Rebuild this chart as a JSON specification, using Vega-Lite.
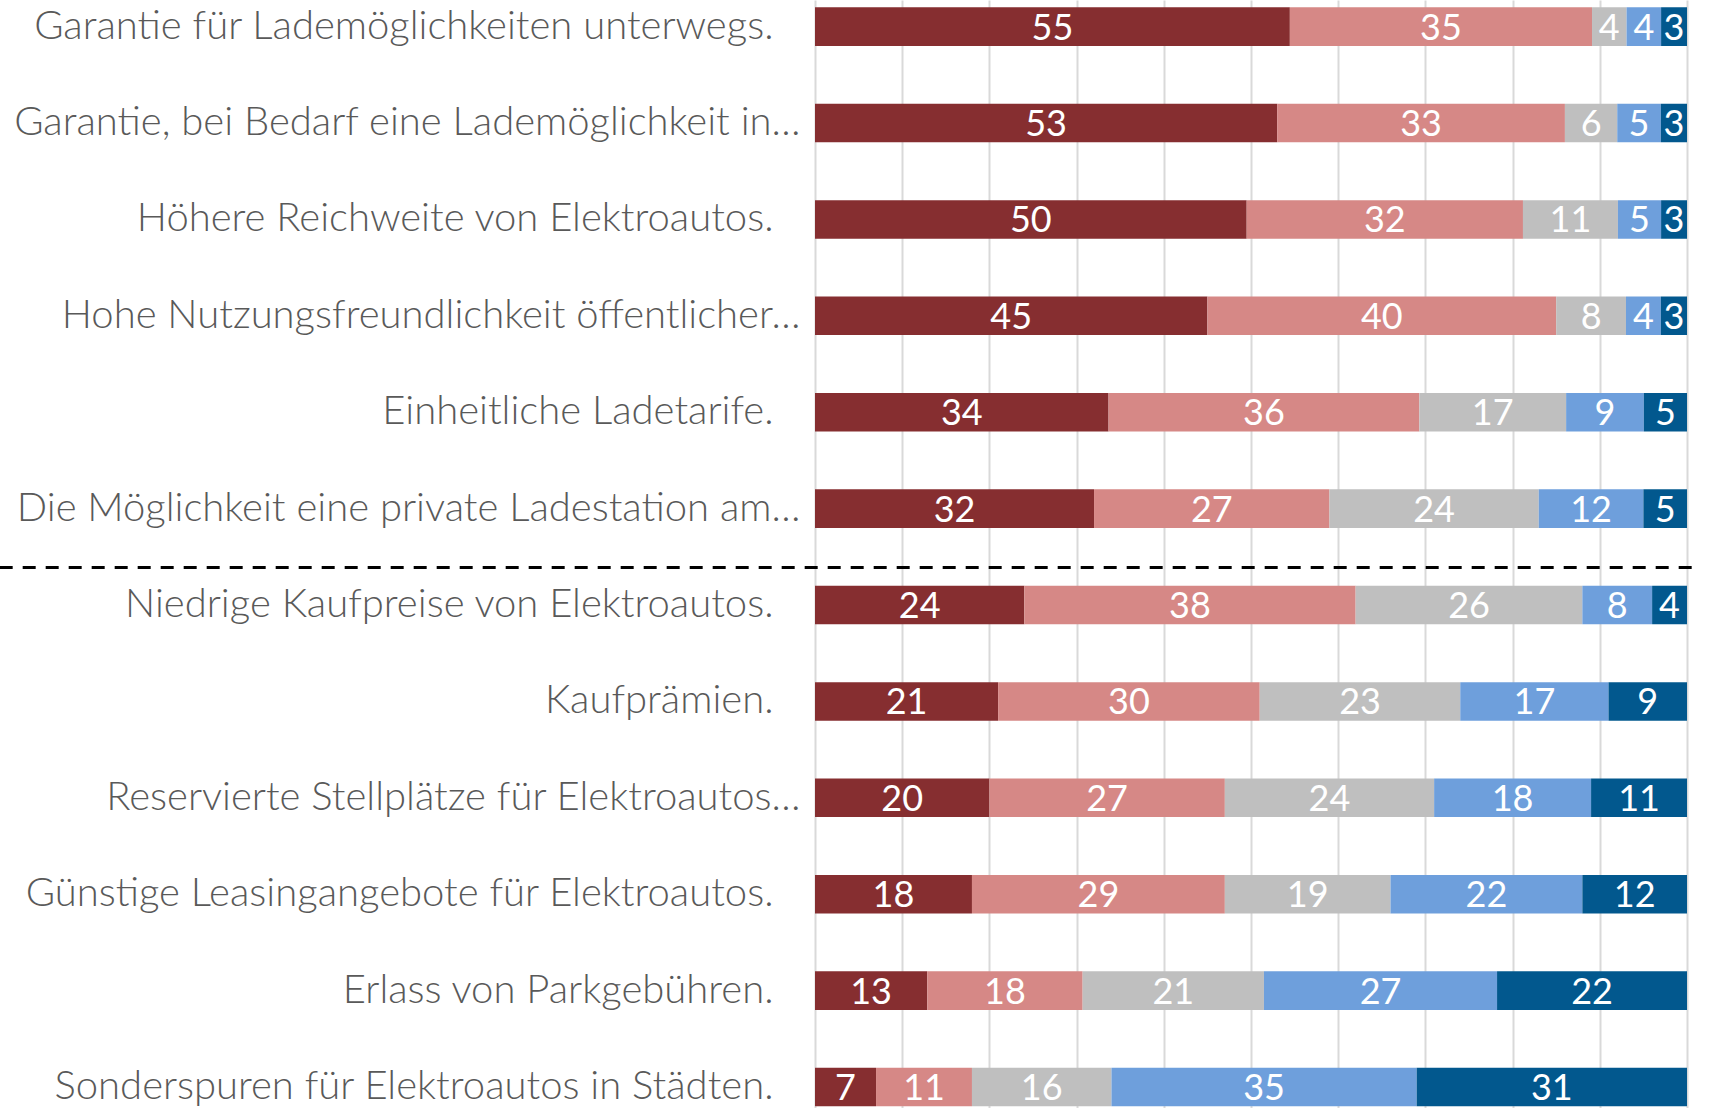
{
  "$schema": "https://vega.github.io/schema/vega-lite/v6.json",
  "width": 872,
  "height": 1108,
  "autosize": {"type": "none"},
  "padding": {"left": 815, "top": 0, "right": 22, "bottom": 0},
  "background": "white",
  "config": {"view": {"stroke": null}},
  "datasets": {
    "bars": [
      {"item": "Garantie für Lademöglichkeiten unterwegs.", "level": "Stufe 1", "rank": 1, "pct": 55},
      {"item": "Garantie für Lademöglichkeiten unterwegs.", "level": "Stufe 2", "rank": 2, "pct": 35},
      {"item": "Garantie für Lademöglichkeiten unterwegs.", "level": "Stufe 3", "rank": 3, "pct": 4},
      {"item": "Garantie für Lademöglichkeiten unterwegs.", "level": "Stufe 4", "rank": 4, "pct": 4},
      {"item": "Garantie für Lademöglichkeiten unterwegs.", "level": "Stufe 5", "rank": 5, "pct": 3},
      {"item": "Garantie, bei Bedarf eine Lademöglichkeit in…", "level": "Stufe 1", "rank": 1, "pct": 53},
      {"item": "Garantie, bei Bedarf eine Lademöglichkeit in…", "level": "Stufe 2", "rank": 2, "pct": 33},
      {"item": "Garantie, bei Bedarf eine Lademöglichkeit in…", "level": "Stufe 3", "rank": 3, "pct": 6},
      {"item": "Garantie, bei Bedarf eine Lademöglichkeit in…", "level": "Stufe 4", "rank": 4, "pct": 5},
      {"item": "Garantie, bei Bedarf eine Lademöglichkeit in…", "level": "Stufe 5", "rank": 5, "pct": 3},
      {"item": "Höhere Reichweite von Elektroautos.", "level": "Stufe 1", "rank": 1, "pct": 50},
      {"item": "Höhere Reichweite von Elektroautos.", "level": "Stufe 2", "rank": 2, "pct": 32},
      {"item": "Höhere Reichweite von Elektroautos.", "level": "Stufe 3", "rank": 3, "pct": 11},
      {"item": "Höhere Reichweite von Elektroautos.", "level": "Stufe 4", "rank": 4, "pct": 5},
      {"item": "Höhere Reichweite von Elektroautos.", "level": "Stufe 5", "rank": 5, "pct": 3},
      {"item": "Hohe Nutzungsfreundlichkeit öffentlicher…", "level": "Stufe 1", "rank": 1, "pct": 45},
      {"item": "Hohe Nutzungsfreundlichkeit öffentlicher…", "level": "Stufe 2", "rank": 2, "pct": 40},
      {"item": "Hohe Nutzungsfreundlichkeit öffentlicher…", "level": "Stufe 3", "rank": 3, "pct": 8},
      {"item": "Hohe Nutzungsfreundlichkeit öffentlicher…", "level": "Stufe 4", "rank": 4, "pct": 4},
      {"item": "Hohe Nutzungsfreundlichkeit öffentlicher…", "level": "Stufe 5", "rank": 5, "pct": 3},
      {"item": "Einheitliche Ladetarife.", "level": "Stufe 1", "rank": 1, "pct": 34},
      {"item": "Einheitliche Ladetarife.", "level": "Stufe 2", "rank": 2, "pct": 36},
      {"item": "Einheitliche Ladetarife.", "level": "Stufe 3", "rank": 3, "pct": 17},
      {"item": "Einheitliche Ladetarife.", "level": "Stufe 4", "rank": 4, "pct": 9},
      {"item": "Einheitliche Ladetarife.", "level": "Stufe 5", "rank": 5, "pct": 5},
      {"item": "Die Möglichkeit eine private Ladestation am…", "level": "Stufe 1", "rank": 1, "pct": 32},
      {"item": "Die Möglichkeit eine private Ladestation am…", "level": "Stufe 2", "rank": 2, "pct": 27},
      {"item": "Die Möglichkeit eine private Ladestation am…", "level": "Stufe 3", "rank": 3, "pct": 24},
      {"item": "Die Möglichkeit eine private Ladestation am…", "level": "Stufe 4", "rank": 4, "pct": 12},
      {"item": "Die Möglichkeit eine private Ladestation am…", "level": "Stufe 5", "rank": 5, "pct": 5},
      {"item": "Niedrige Kaufpreise von Elektroautos.", "level": "Stufe 1", "rank": 1, "pct": 24},
      {"item": "Niedrige Kaufpreise von Elektroautos.", "level": "Stufe 2", "rank": 2, "pct": 38},
      {"item": "Niedrige Kaufpreise von Elektroautos.", "level": "Stufe 3", "rank": 3, "pct": 26},
      {"item": "Niedrige Kaufpreise von Elektroautos.", "level": "Stufe 4", "rank": 4, "pct": 8},
      {"item": "Niedrige Kaufpreise von Elektroautos.", "level": "Stufe 5", "rank": 5, "pct": 4},
      {"item": "Kaufprämien.", "level": "Stufe 1", "rank": 1, "pct": 21},
      {"item": "Kaufprämien.", "level": "Stufe 2", "rank": 2, "pct": 30},
      {"item": "Kaufprämien.", "level": "Stufe 3", "rank": 3, "pct": 23},
      {"item": "Kaufprämien.", "level": "Stufe 4", "rank": 4, "pct": 17},
      {"item": "Kaufprämien.", "level": "Stufe 5", "rank": 5, "pct": 9},
      {"item": "Reservierte Stellplätze für Elektroautos…", "level": "Stufe 1", "rank": 1, "pct": 20},
      {"item": "Reservierte Stellplätze für Elektroautos…", "level": "Stufe 2", "rank": 2, "pct": 27},
      {"item": "Reservierte Stellplätze für Elektroautos…", "level": "Stufe 3", "rank": 3, "pct": 24},
      {"item": "Reservierte Stellplätze für Elektroautos…", "level": "Stufe 4", "rank": 4, "pct": 18},
      {"item": "Reservierte Stellplätze für Elektroautos…", "level": "Stufe 5", "rank": 5, "pct": 11},
      {"item": "Günstige Leasingangebote für Elektroautos.", "level": "Stufe 1", "rank": 1, "pct": 18},
      {"item": "Günstige Leasingangebote für Elektroautos.", "level": "Stufe 2", "rank": 2, "pct": 29},
      {"item": "Günstige Leasingangebote für Elektroautos.", "level": "Stufe 3", "rank": 3, "pct": 19},
      {"item": "Günstige Leasingangebote für Elektroautos.", "level": "Stufe 4", "rank": 4, "pct": 22},
      {"item": "Günstige Leasingangebote für Elektroautos.", "level": "Stufe 5", "rank": 5, "pct": 12},
      {"item": "Erlass von Parkgebühren.", "level": "Stufe 1", "rank": 1, "pct": 13},
      {"item": "Erlass von Parkgebühren.", "level": "Stufe 2", "rank": 2, "pct": 18},
      {"item": "Erlass von Parkgebühren.", "level": "Stufe 3", "rank": 3, "pct": 21},
      {"item": "Erlass von Parkgebühren.", "level": "Stufe 4", "rank": 4, "pct": 27},
      {"item": "Erlass von Parkgebühren.", "level": "Stufe 5", "rank": 5, "pct": 22},
      {"item": "Sonderspuren für Elektroautos in Städten.", "level": "Stufe 1", "rank": 1, "pct": 7},
      {"item": "Sonderspuren für Elektroautos in Städten.", "level": "Stufe 2", "rank": 2, "pct": 11},
      {"item": "Sonderspuren für Elektroautos in Städten.", "level": "Stufe 3", "rank": 3, "pct": 16},
      {"item": "Sonderspuren für Elektroautos in Städten.", "level": "Stufe 4", "rank": 4, "pct": 35},
      {"item": "Sonderspuren für Elektroautos in Städten.", "level": "Stufe 5", "rank": 5, "pct": 31}
    ],
    "separator": [
      {"before": "Niedrige Kaufpreise von Elektroautos.", "from": -0.935, "to": 1.016}
    ]
  },
  "layer": [
    {
      "data": {"name": "bars"},
      "mark": {"type": "bar"},
      "encoding": {
        "y": {
          "field": "item", "type": "nominal",
          "scale": {
            "domain": ["Garantie für Lademöglichkeiten unterwegs.", "Garantie, bei Bedarf eine Lademöglichkeit in…", "Höhere Reichweite von Elektroautos.", "Hohe Nutzungsfreundlichkeit öffentlicher…", "Einheitliche Ladetarife.", "Die Möglichkeit eine private Ladestation am…", "Niedrige Kaufpreise von Elektroautos.", "Kaufprämien.", "Reservierte Stellplätze für Elektroautos…", "Günstige Leasingangebote für Elektroautos.", "Erlass von Parkgebühren.", "Sonderspuren für Elektroautos in Städten."],
            "paddingInner": 0.6, "paddingOuter": 0.047, "align": 0.81
          },
          "axis": {
            "title": null, "domain": false, "ticks": false,
            "labelFont": "Lato", "labelFontWeight": 300, "labelFontSize": 40,
            "labelColor": "#595959", "labelLimit": 0,
            "labelPadding": {"condition": {"test": "indexof(datum.label, '…') >= 0", "value": 15}, "value": 42}
          }
        },
        "x": {
          "field": "pct", "type": "quantitative", "stack": "normalize",
          "scale": {"domain": [0, 1], "nice": false},
          "axis": {
            "title": null, "labels": false, "ticks": false, "domain": false,
            "values": [0, 0.1, 0.2, 0.3, 0.4, 0.5, 0.6, 0.7, 0.8, 0.9, 1],
            "grid": true, "gridColor": "#d9d9d9", "gridWidth": 2
          }
        },
        "color": {
          "field": "level", "type": "nominal", "legend": null,
          "scale": {
            "domain": ["Stufe 1", "Stufe 2", "Stufe 3", "Stufe 4", "Stufe 5"],
            "range": ["#862e30", "#d68886", "#bfbfbf", "#6e9fdc", "#02588e"]
          }
        },
        "order": {"field": "rank", "type": "quantitative"}
      }
    },
    {
      "data": {"name": "bars"},
      "mark": {"type": "text", "font": "Lato", "fontWeight": 400, "fontSize": 36, "color": "white", "baseline": "alphabetic", "align": "center", "dy": 13},
      "encoding": {
        "y": {"field": "item", "type": "nominal"},
        "x": {
          "field": "pct", "type": "quantitative", "stack": "normalize", "bandPosition": 0.5,
          "scale": {"domain": [0, 1], "nice": false}
        },
        "detail": {"field": "level", "type": "nominal"},
        "order": {"field": "rank", "type": "quantitative"},
        "text": {"field": "pct", "type": "quantitative"}
      }
    },
    {
      "data": {"name": "separator"},
      "mark": {"type": "rule", "color": "black", "strokeWidth": 3, "strokeDash": [13, 10], "yOffset": -37.5},
      "encoding": {
        "y": {"field": "before", "type": "nominal"},
        "x": {"field": "from", "type": "quantitative", "scale": {"domain": [0, 1], "nice": false}},
        "x2": {"field": "to"}
      }
    }
  ]
}
